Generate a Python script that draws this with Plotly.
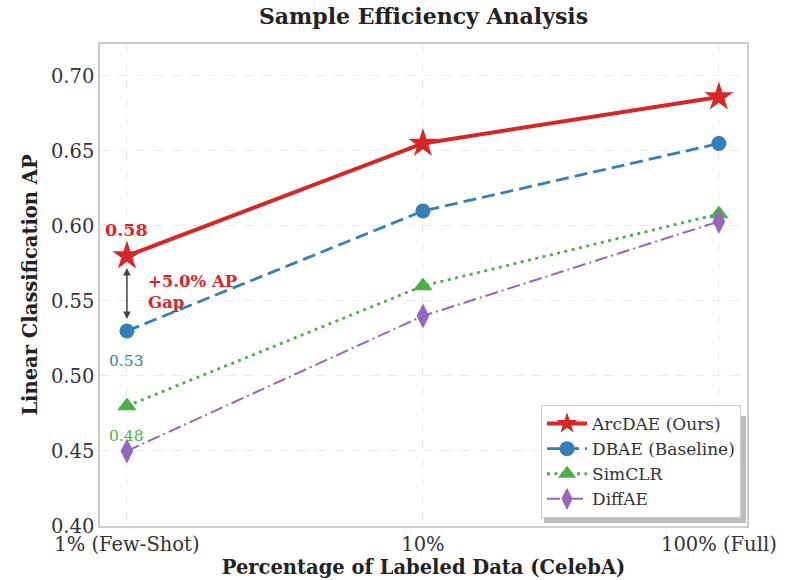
import plotly.graph_objects as go

categories = ["1% (Few-Shot)", "10%", "100% (Full)"]
arcdae = [0.58, 0.655, 0.686]
dbae = [0.53, 0.61, 0.655]
simclr = [0.48, 0.56, 0.608]
diffae = [0.45, 0.54, 0.603]
y_ticks = [0.40, 0.45, 0.50, 0.55, 0.60, 0.65, 0.70]

FONT = "DejaVu Serif"
xs = list(range(len(categories)))

fig = go.Figure()
fig.add_trace(go.Scatter(x=xs, y=arcdae, name="ArcDAE (Ours)", mode="lines+markers",
                         line=dict(color="#d62728", width=4),
                         marker=dict(symbol="star", size=22, color="#d62728")))
fig.add_trace(go.Scatter(x=xs, y=dbae, name="DBAE (Baseline)", mode="lines+markers",
                         line=dict(color="#377eb8", width=2.8, dash="13px,6px"),
                         marker=dict(symbol="circle", size=15, color="#377eb8")))
fig.add_trace(go.Scatter(x=xs, y=simclr, name="SimCLR", mode="lines+markers",
                         line=dict(color="#4daf4a", width=2.8, dash="3px,4.5px"),
                         marker=dict(symbol="triangle-up", size=17, color="#4daf4a")))
fig.add_trace(go.Scatter(x=xs, y=diffae, name="DiffAE", mode="lines+markers",
                         line=dict(color="#9467bd", width=2, dash="13px,4px,2px,4px"),
                         marker=dict(symbol="diamond-tall", size=18, color="#9467bd")))

# gap arrow
fig.add_annotation(x=xs[0], y=arcdae[0] - 0.008, ax=xs[0], ay=dbae[0] + 0.007,
                   xref="x", yref="y", axref="x", ayref="y", text="",
                   showarrow=True, arrowhead=2, arrowside="end+start",
                   arrowwidth=1.5, arrowcolor="#444444", arrowsize=1)
fig.add_annotation(x=xs[0] + 0.066, y=(arcdae[0] + dbae[0]) / 2 + 0.001,
                   text="<b>+5.0% AP<br>Gap</b>", showarrow=False,
                   xanchor="left", align="left",
                   font=dict(family=FONT, size=16.5, color="#d62728"))
fig.add_annotation(x=xs[0], y=arcdae[0] + 0.017, text="<b>0.58</b>", showarrow=False,
                   font=dict(family=FONT, size=17.5, color="#d62728"))
fig.add_annotation(x=xs[0], y=dbae[0] - 0.020, text="0.53", showarrow=False,
                   font=dict(family=FONT, size=15.5, color="#377eb8"))
fig.add_annotation(x=xs[0], y=simclr[0] - 0.020, text="0.48", showarrow=False,
                   font=dict(family=FONT, size=15.5, color="#4daf4a"))

# legend shadow (behind the legend box)
fig.add_shape(type="rect", xref="paper", yref="paper",
              x0=(544 - 100) / 647, x1=(746 - 100) / 647,
              y0=(526 - 523) / 482, y1=(526 - 416) / 482,
              fillcolor="#bdbdbd", line=dict(width=0), layer="above")

fig.update_layout(
    width=789, height=580,
    margin=dict(l=100, r=42, t=44, b=54, autoexpand=False),
    paper_bgcolor="white", plot_bgcolor="white",
    font=dict(family=FONT, color="#333333"),
    title=dict(text="<b>Sample Efficiency Analysis</b>", xref="paper", x=0.5, xanchor="center",
               yref="container", y=1 - 16 / 580, yanchor="middle",
               font=dict(family=FONT, size=22, color="#222222")),
    showlegend=True,
    legend=dict(x=(741 - 100) / 647, y=(526 - 518) / 482, xanchor="right", yanchor="bottom",
                bgcolor="white", bordercolor="#cccccc", borderwidth=1,
                font=dict(family=FONT, size=17, color="#333333"),
                itemwidth=40, tracegroupgap=0),
    xaxis=dict(tickmode="array", tickvals=xs, ticktext=categories, range=[-0.091, 2.095],
               showgrid=True, gridcolor="#ebebeb", griddash="dash", gridwidth=1,
               showline=True, linecolor="#cccccc", linewidth=1.5, mirror=True,
               ticks="", zeroline=False, automargin=False,
               tickfont=dict(family=FONT, size=19.5, color="#333333"),
               title=dict(text="<b>Percentage of Labeled Data (CelebA)</b>", standoff=2,
                          font=dict(family=FONT, size=19.5, color="#222222"))),
    yaxis=dict(tickmode="array", tickvals=y_ticks, ticktext=[f"{v:.2f}" for v in y_ticks],
               range=[0.40, 0.7213],
               showgrid=True, gridcolor="#ebebeb", griddash="dash", gridwidth=1,
               showline=True, linecolor="#cccccc", linewidth=1.5, mirror=True,
               ticks="", zeroline=False, automargin=False,
               tickfont=dict(family=FONT, size=19.5, color="#333333"),
               title=dict(text="<b>Linear Classification AP</b>", standoff=8,
                          font=dict(family=FONT, size=19.5, color="#222222"))),
)

fig.write_html("out.html", config={"displayModeBar": False},
               post_script="document.body.style.margin='0';")
